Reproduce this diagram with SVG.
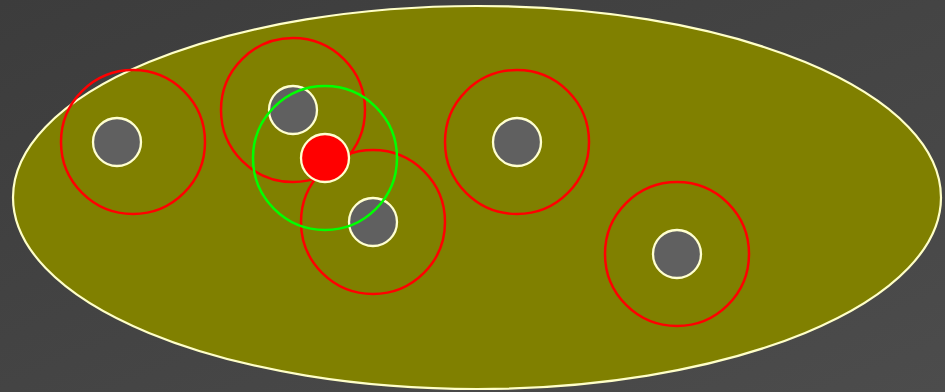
<svg xmlns="http://www.w3.org/2000/svg" width="945" height="392" viewBox="0 0 945 392">
<defs>
<linearGradient id="bg" x1="0" y1="0" x2="1" y2="1">
<stop offset="0" stop-color="#3c3c3c"/>
<stop offset="1" stop-color="#4c4c4c"/>
</linearGradient>
<style>
.ring{fill:none;stroke:#ff0000;stroke-width:2.5}
.green{fill:none;stroke:#00ff00;stroke-width:2.5}
.node{fill:#606060;stroke:#ffffd0;stroke-width:2.3}
.sel{fill:#ff0000;stroke:#ffffd0;stroke-width:2.3}
</style>
</defs>
<rect width="945" height="392" fill="url(#bg)"/>
<g id="area"><ellipse cx="477" cy="197.5" rx="464" ry="191.5" fill="#808000" stroke="#ffffc8" stroke-width="2.2"/></g>
<g id="rings">
<circle class="ring" cx="133" cy="142" r="72"/>
<circle class="ring" cx="293" cy="110" r="72"/>
<circle class="ring" cx="373" cy="222" r="72"/>
<circle class="ring" cx="517" cy="142" r="72"/>
<circle class="ring" cx="677" cy="254" r="72"/>
</g>
<g id="n1"><circle class="node" cx="117" cy="142" r="24"/></g>
<g id="n2"><circle class="node" cx="293" cy="110" r="24"/></g>
<g id="n3"><circle class="node" cx="373" cy="222" r="24"/></g>
<g id="n4"><circle class="node" cx="517" cy="142" r="24"/></g>
<g id="n5"><circle class="node" cx="677" cy="254" r="24"/></g>
<g id="green"><circle class="green" cx="325" cy="158" r="72"/></g>
<g id="selected"><circle class="sel" cx="325" cy="158" r="24"/></g>
<g id="connectors"></g>
</svg>
